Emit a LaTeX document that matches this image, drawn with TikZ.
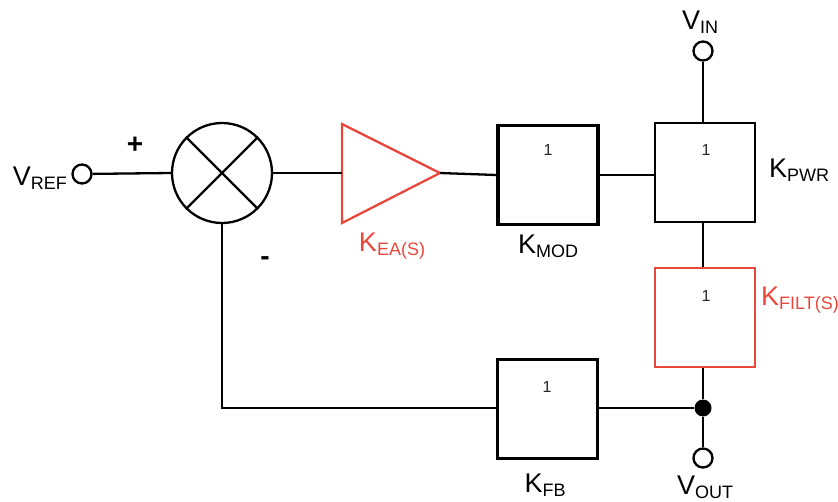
\documentclass[tikz,border=0pt]{standalone}
\usepackage{fontspec}
\setmainfont{Liberation Sans}
\usetikzlibrary{calc}
\definecolor{kred}{RGB}{232,72,60}
\newcommand{\blab}[2]{{\fontsize{27}{30}\selectfont #1}{\fontsize{18}{20}\selectfont\raisebox{-4pt}{#2}}}
\begin{document}
\begin{tikzpicture}[x=1pt,y=-1pt,
  wire/.style={line width=2.3pt,black},
  term/.style={circle,draw,line width=2.3pt,minimum size=19pt,inner sep=0pt,fill=white},
  blk/.style={draw,line width=2.3pt,minimum width=100pt,minimum height=99pt,inner sep=0pt,fill=white},
  blkthick/.style={blk,line width=3.3pt},
  blkred/.style={blk,draw=kred},
  one/.style={font=\fontsize{16}{17}\selectfont,text=black!85},
  sign/.style={inner sep=0pt,font=\bfseries\fontsize{28}{30}\selectfont},
  lab/.style={inner sep=0pt}]
\useasboundingbox (0,0) rectangle (838,501);
% terminals
\node[term] (vref) at (82,174) {};
\node[lab,anchor=east] (vreft) at (67,178) {\blab{V}{REF}};
\node[term] (vin) at (703,51) {};
\node[lab] (vint) at (700,22) {\blab{V}{IN}};
\node[term] (vout) at (703,458) {};
\node[lab] (voutt) at (705,487) {\blab{V}{OUT}};
% summing junction
\node[circle,draw,line width=2.3pt,minimum size=100pt,inner sep=0pt] (sum) at (222,173) {};
\draw[wire] (sum.north east) -- (sum.south west);
\draw[wire] (sum.north west) -- (sum.south east);
\node[sign] (plus) at (135,145) {+};
\node[sign] (minus) at (265,261) {-};
% error amp triangle
\coordinate (eain) at (342,173);
\coordinate (eaout) at (440,173);
\draw[line width=2.3pt,draw=kred,line join=miter] (342,124) -- (eaout) -- (342,223) -- cycle;
\node[lab,text=kred] (kea) at (392,246) {\blab{K}{EA(S)}};
% blocks
\node[blkthick] (kmod) at (548,175) {};
\node[one] (kmod1) at (548,150) {1};
\node[lab] (kmodt) at (548,246) {\blab{K}{MOD}};
\node[blk] (kpwr) at (705,172.5) {};
\node[one] (kpwr1) at (706,150) {1};
\node[lab,anchor=west] (kpwrt) at (769,170) {\blab{K}{PWR}};
\node[blkred] (kfilt) at (705,317.5) {};
\node[one] (kfilt1) at (706,296) {1};
\node[lab,anchor=west,text=kred] (kfiltt) at (761,300) {\blab{K}{FILT(S)}};
\node[blk] (kfb) at (547.5,409) {};
\node[one] (kfb1) at (547,387) {1};
\node[lab] (kfbt) at (545,485) {\blab{K}{FB}};
% junction dot
\node[circle,fill=black,minimum size=17pt,inner sep=0pt] (dot) at (703,408) {};
% wires
\draw[wire] (vref) -- (sum.west);
\draw[wire] (sum.east) -- (eain);
\draw[wire] (eaout) -- (kmod.west);
\draw[wire] (kmod.east) -- (kpwr.west |- kmod.east);
\draw[wire] (vin) -- (vin |- kpwr.north);
\draw[wire] (kpwr.south -| vin) -- (kfilt.north -| vin);
\draw[wire] (kfilt.south -| vin) -- (dot);
\draw[wire] (dot) -- (vout);
\draw[wire] (dot) -- (kfb.east |- dot);
\draw[wire] (kfb.west |- dot) -| (sum.south);
\end{tikzpicture}
\end{document}
